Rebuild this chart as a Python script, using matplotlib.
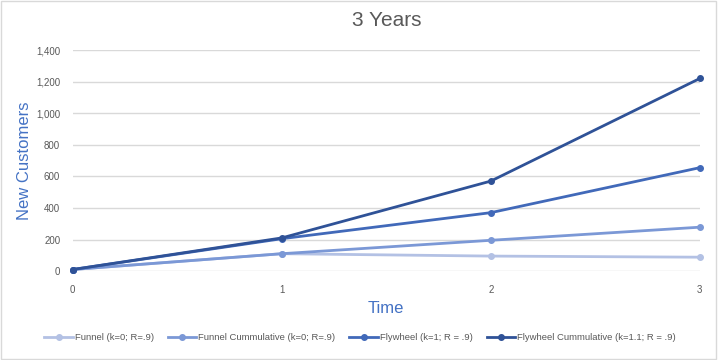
import numpy as np
import matplotlib.pyplot as plt
from matplotlib.ticker import FuncFormatter

# data
time = [0, 1, 2, 3]
funnel = [10, 110, 95, 88]
funnel_cum = [10, 110, 195, 278]
flywheel = [10, 205, 370, 655]
flywheel_cum = [10, 210, 570, 1220]

labels = ["Funnel (k=0; R=.9)", "Funnel Cummulative (k=0; R=.9)",
          "Flywheel (k=1; R = .9)", "Flywheel Cummulative (k=1.1; R = .9)"]
colors = ["#b3c1e4", "#7b98d6", "#4169b9", "#2f5297"]

plt.rcParams['font.family'] = ['Liberation Sans', 'DejaVu Sans']

fig = plt.figure(figsize=(7.2, 3.6), dpi=100)
ax = fig.add_axes([0.101, 0.247, 0.871, 0.614])

for ys, lab, c in zip([funnel, funnel_cum, flywheel, flywheel_cum], labels, colors):
    ax.plot(time, ys, color=c, linewidth=2, marker='o', markersize=4,
            label=lab, clip_on=False, zorder=3)

ax.set_xlim(0, 3)
ax.set_ylim(0, 1400)
ax.set_xticks(time)
ax.set_yticks(np.arange(0, 1401, 200))
ax.yaxis.set_major_formatter(FuncFormatter(lambda v, p: f"{int(v):,}"))
ax.tick_params(length=0, labelsize=7, colors="#595959")
ax.tick_params(axis='x', pad=10)
ax.tick_params(axis='y', pad=9)
ax.grid(axis='y', color="#d9d9d9", linewidth=1)
for s in ax.spines.values():
    s.set_visible(False)

ax.set_title("3 Years", fontsize=15, color="#595959", pad=17)
ax.set_ylabel("New Customers", fontsize=12, color="#4472c4", labelpad=3)
ax.set_xlabel("Time", fontsize=12, color="#4472c4", labelpad=4)

leg = fig.legend(loc='lower center', ncol=4, frameon=False, fontsize=6.8,
                 bbox_to_anchor=(0.5, 0.025), handlelength=3, columnspacing=1.5,
                 handletextpad=0.2, labelcolor="#595959")

# light frame around the chart
fig.patches.append(plt.Rectangle((0.002, 0.003), 0.992, 0.994, transform=fig.transFigure,
                                 fill=False, edgecolor="#d9d9d9", linewidth=1))

fig.savefig("out.png", dpi=100)
